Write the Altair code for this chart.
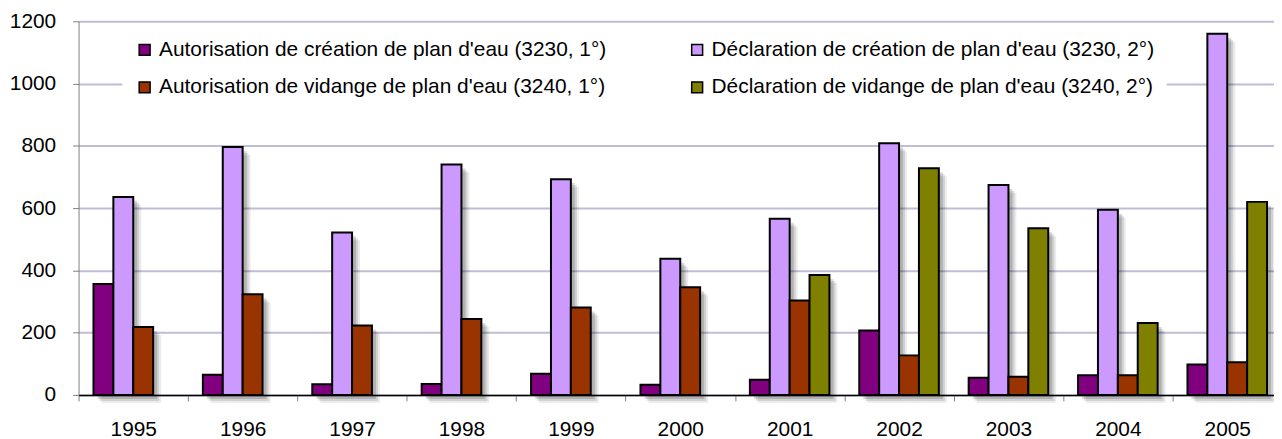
import altair as alt
import pandas as pd

years = ["1995", "1996", "1997", "1998", "1999", "2000", "2001", "2002", "2003", "2004", "2005"]
series = [
    "Autorisation de création de plan d'eau (3230, 1°)",
    "Déclaration de création de plan d'eau (3230, 2°)",
    "Autorisation de vidange de plan d'eau (3240, 1°)",
    "Déclaration de vidange de plan d'eau (3240, 2°)",
]
colors = ["#800080", "#CC99FF", "#993300", "#808000"]

autor_creation = [356, 65, 34, 35, 68, 33, 49, 207, 55, 63, 98]
decl_creation = [636, 796, 522, 740, 693, 437, 566, 808, 674, 595, 1160]
autor_vidange = [218, 323, 223, 244, 281, 346, 303, 127, 58, 63, 105]
decl_vidange = [None, None, None, None, None, None, 385, 728, 535, 231, 620]

rows = []
for s, vals in zip(series, [autor_creation, decl_creation, autor_vidange, decl_vidange]):
    for yr, v in zip(years, vals):
        if v is not None:
            rows.append({"year": yr, "series": s, "value": v})
df = pd.DataFrame(rows)

FONT = "Liberation Sans"

x_enc = alt.X(
    "year:N",
    sort=years,
    scale=alt.Scale(domain=years, range=[0, 1211], paddingInner=0, paddingOuter=0),
    axis=alt.Axis(
        title=None, labelAngle=0, tickBand="extent", grid=False,
        domainColor="#000000", domainWidth=1.5, tickColor="#808080", tickSize=6,
        labelFont=FONT, labelFontSize=21, labelColor="#000000", labelPadding=18,
    ),
)
y_enc = alt.Y(
    "value:Q",
    scale=alt.Scale(domain=[0, 1200], nice=False),
    axis=alt.Axis(
        title=None, values=[0, 200, 400, 600, 800, 1000, 1200], format="d", grid=True,
        gridColor="#BEBED6", gridWidth=2, domainColor="#808080", tickColor="#808080",
        tickSize=6, labelFont=FONT, labelFontSize=21, labelColor="#000000", labelPadding=17,
    ),
)


def shadow(shift, opacity):
    return alt.Chart(df).mark_bar(color="#000000", opacity=opacity, yOffset=shift).encode(
        x=x_enc,
        xOffset=alt.XOffset(
            "series:N", sort=series,
            scale=alt.Scale(domain=series, paddingInner=0, paddingOuter=0.75, align=(15 + shift) / 30),
        ),
        y=y_enc,
    )


bars = alt.Chart(df).mark_bar(stroke="#000000", strokeWidth=2).encode(
    x=x_enc,
    xOffset=alt.XOffset(
        "series:N", sort=series,
        scale=alt.Scale(domain=series, paddingInner=0, paddingOuter=0.75),
    ),
    y=y_enc,
    color=alt.Color(
        "series:N", sort=series,
        scale=alt.Scale(domain=series, range=colors),
        legend=alt.Legend(
            title=None, orient="none", legendX=44, legendY=6, columns=2,
            direction="horizontal",
            symbolType="square", symbolSize=121, symbolStrokeColor="#000000",
            symbolStrokeWidth=1.5, labelFont=FONT, labelFontSize=21, labelColor="#000000",
            labelOffset=4, labelLimit=0, columnPadding=80, rowPadding=16,
            fillColor="#FFFFFF", padding=12,
        ),
    ),
)

chart = (
    alt.layer(shadow(8, 0.08), shadow(6, 0.11), shadow(4, 0.15), bars)
    .resolve_scale(xOffset="independent")
    .properties(
        width=1203, height=376,
        autosize=alt.AutoSizeParams(type="none"),
        padding={"left": 71, "top": 12, "right": 0, "bottom": 45},
    )
    .configure_view(stroke=None)
)

chart.save("out.html", embed_options={"renderer": "svg", "actions": False})
